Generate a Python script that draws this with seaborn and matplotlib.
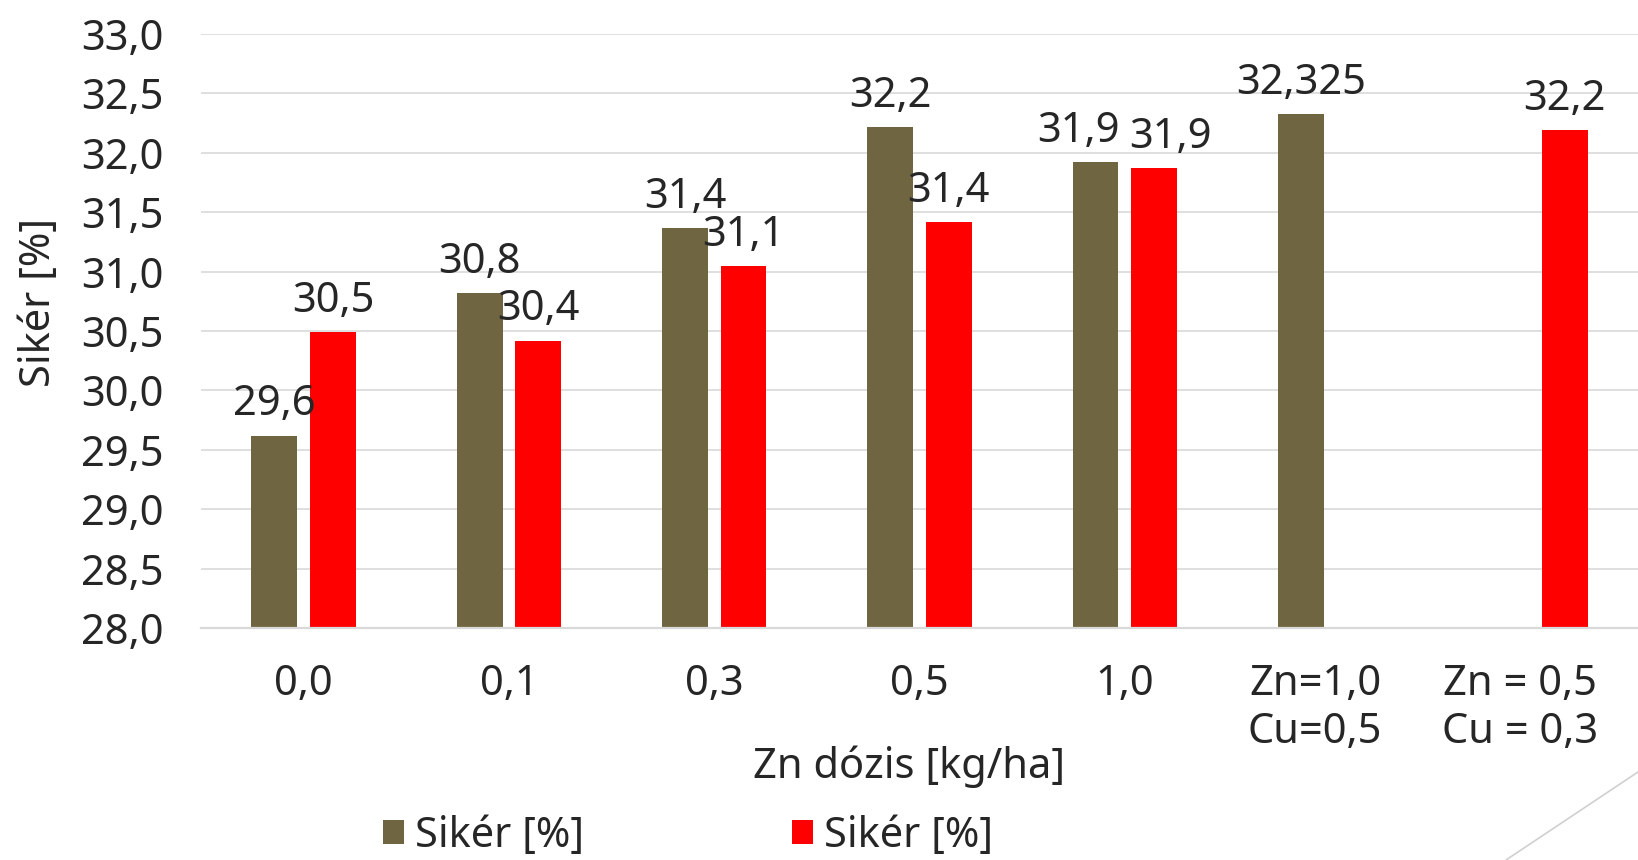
import numpy as np
import pandas as pd
import seaborn as sns
import matplotlib.pyplot as plt
from matplotlib.ticker import FuncFormatter, MultipleLocator
from matplotlib.lines import Line2D
from matplotlib.transforms import ScaledTranslation

# categories and values
categories = ["0,0", "0,1", "0,3", "0,5", "1,0", "Zn=1,0\nCu=0,5", "Zn = 0,5\nCu = 0,3"]
olive_vals = [29.62, 30.82, 31.37, 32.22, 31.92, 32.325, np.nan]
red_vals = [30.49, 30.42, 31.05, 31.42, 31.87, np.nan, 32.19]
olive_labels = ["29,6", "30,8", "31,4", "32,2", "31,9", "32,325"]
red_labels = ["30,5", "30,4", "31,1", "31,4", "31,9", "32,2"]
series_names = ["Sikér [%]", "Sikér [%]"]

OLIVE = "#6F6641"
RED = "#FF0000"
GRID = "#D9D9D9"
FS = 30

sns.set_style("white")
plt.rcParams["font.family"] = ["Noto Sans", "DejaVu Sans"]

df = pd.DataFrame({
    "kat": categories * 2,
    "sor": ["a"] * len(categories) + ["b"] * len(categories),
    "ertek": olive_vals + red_vals,
}).dropna()

fig = plt.figure(figsize=(16.38, 8.6), dpi=100)
ax = fig.add_axes([201 / 1638, 232 / 860, 1437 / 1638, 594 / 860])

sns.barplot(data=df, x="kat", y="ertek", hue="sor", order=categories,
            hue_order=["a", "b"], palette=[OLIVE, RED], width=0.57, gap=0.215,
            errorbar=None, ax=ax, legend=True, saturation=1, linewidth=0)

ax.set_ylim(28, 33)
ax.set_xlim(-0.5, len(categories) - 0.5)
ax.yaxis.set_major_locator(MultipleLocator(0.5))
ax.yaxis.set_major_formatter(FuncFormatter(lambda v, p: f"{v:.1f}".replace(".", ",")))
ax.grid(axis="y", color=GRID, linewidth=1.2)
ax.set_axisbelow(True)
for s in ["top", "right", "left"]:
    ax.spines[s].set_visible(False)
ax.spines["bottom"].set_color(GRID)
ax.spines["bottom"].set_linewidth(1.6)
ax.tick_params(axis="y", length=0, pad=27, labelsize=FS)
ax.tick_params(axis="x", length=0, pad=25, labelsize=FS)
ax.set_ylabel("")

# the two-line category labels sit a bit left of their slot
for lab in ax.get_xticklabels()[5:]:
    lab.set_transform(lab.get_transform() + ScaledTranslation(-0.15, 0, fig.dpi_scale_trans))

# data labels (the 1,0 pair is pushed apart so they don't collide)
shifts = {"a": [0, 0, 0, 0, -12, 0], "b": [0, 0, 0, 0, 12, 0]}
for cont, labs, key in zip(ax.containers, [olive_labels, red_labels], ["a", "b"]):
    texts = ax.bar_label(cont, labels=labs, padding=14.5, fontsize=FS)
    for t, dx in zip(texts, shifts[key]):
        t.set_va("baseline")
        t.xyann = (dx, t.xyann[1])

ax.set_xlabel("Zn dózis [kg/ha]", fontsize=FS)
ax.xaxis.set_label_coords((909 - 201) / 1437, (628 - 778) / 594)
ax.xaxis.label.set_va("baseline")

fig.text(39 / 1638, 1 - 302 / 860, "Sikér [%]", rotation=90, ha="center",
         va="center", fontsize=FS)

handles, _ = ax.get_legend_handles_labels()
ax.get_legend().remove()
fig.legend(handles, series_names, loc="center left",
           bbox_to_anchor=(383 / 1638, 1 - 836 / 860), ncol=2, frameon=False,
           borderpad=0, borderaxespad=0, handlelength=0.5, handleheight=0.5,
           handletextpad=0.26, columnspacing=5.0, fontsize=FS)

# slide decoration line in the corner
fig.add_artist(Line2D([1506 / 1638, 1.0], [0.0, 1 - 772 / 860],
                      transform=fig.transFigure, color="#D0D0D0", linewidth=1.2))

fig.savefig("out.png", dpi=100)
